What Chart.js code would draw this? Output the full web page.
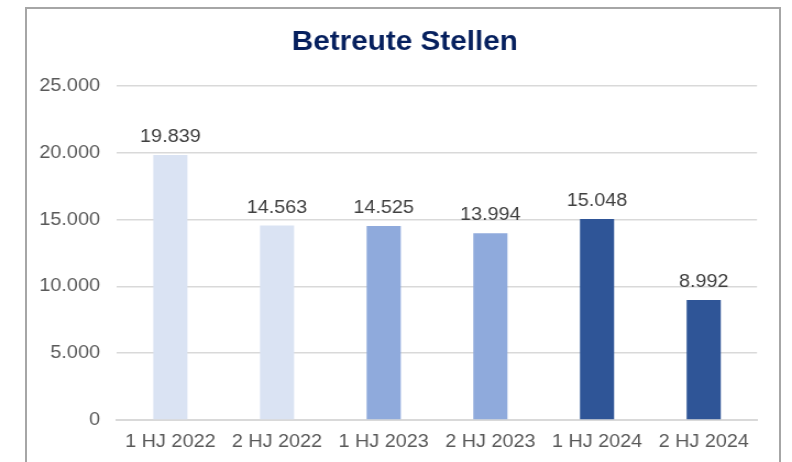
<!DOCTYPE html>
<html>
<head>
<meta charset="utf-8">
<script src="https://cdn.jsdelivr.net/npm/chart.js@4.4.1/dist/chart.umd.min.js"></script>
<style>
  html, body { margin:0; padding:0; background:#fff; overflow:hidden; }
  #frame { position:absolute; left:25px; top:7px; width:752px; height:500px; border:2px solid #a6a6a6; }
  #mycanvas { position:absolute; left:0; top:0; width:792px; height:462px; }
</style>
</head>
<body>
<div id="frame"></div>
<canvas id="mycanvas" width="720" height="462" style="width:792px;height:462px"></canvas>
<script>
var labels = ['1 HJ 2022', '2 HJ 2022', '1 HJ 2023', '2 HJ 2023', '1 HJ 2024', '2 HJ 2024'];
var values = [19839, 14563, 14525, 13994, 15048, 8992];
var barColors = ['#DAE3F3', '#DAE3F3', '#8FAADC', '#8FAADC', '#2F5597', '#2F5597'];
var yTicks = [0, 5000, 10000, 15000, 20000, 25000];

// German thousands separator
function fmt(v){
	return String(v).replace(/\B(?=(\d{3})+(?!\d))/g, '.');
}

var fontFam = '"Liberation Sans", Arial, sans-serif';
Chart.defaults.font.family = fontFam;

// value labels above the bars
var valueLabels = {
	id:'valueLabels',
	afterDatasetsDraw:function(chart){
		var ctx = chart.ctx;
		var meta = chart.getDatasetMeta(0);
		ctx.save();
		ctx.font = '18px ' + fontFam;
		ctx.fillStyle = '#404040';
		ctx.textAlign = 'center';
		ctx.textBaseline = 'alphabetic';
		meta.data.forEach(function(bar, i){
			ctx.fillText(fmt(values[i]), bar.x, bar.y - 13);
		});
		ctx.restore();
	}
};

var ctx = document.getElementById('mycanvas');
var barGraph = new Chart(ctx, {
	type:'bar',
	data:{
		labels:labels,
		datasets:[{
			data:values,
			backgroundColor:barColors,
			borderWidth:0,
			categoryPercentage:1,
			barPercentage:0.32
		}]
	},
	options:{
		responsive:false,
		animation:false,
		devicePixelRatio:1,
		layout:{ padding:{ left:16, right:0, top:0, bottom:0 } },
		plugins:{
			legend:{ display:false },
			tooltip:{ enabled:false },
			title:{
				display:true,
				text:'Betreute Stellen',
				color:'#06205e',
				font:{ size:27, weight:'bold' },
				padding:{ top:26, bottom:27.8 }
			}
		},
		scales:{
			x:{
				grid:{ display:false, drawTicks:false },
				border:{ color:'#d9d9d9', width:2 },
				ticks:{ color:'#595959', font:{ size:18 }, padding:11, maxRotation:0, autoSkip:false },
				afterFit:function(s){ s.height = 42; }
			},
			y:{
				min:0,
				max:25000,
				grid:{ color:'#d9d9d9', lineWidth:1.5, drawTicks:false },
				border:{ display:false },
				ticks:{ color:'#595959', font:{ size:18 }, padding:15.5, callback:function(v){ return fmt(v); } },
				afterBuildTicks:function(s){ s.ticks = yTicks.map(function(v){ return { value:v }; }); },
				afterFit:function(s){ s.width = 90.4; }
			},
			// empty spacer on the right side
			yRight:{
				position:'right',
				min:0,
				max:25000,
				grid:{ display:false, drawTicks:false },
				border:{ display:false },
				ticks:{ display:false },
				afterFit:function(s){ s.width = 31.8; }
			}
		}
	},
	plugins:[valueLabels]
});
</script>
</body>
</html>
